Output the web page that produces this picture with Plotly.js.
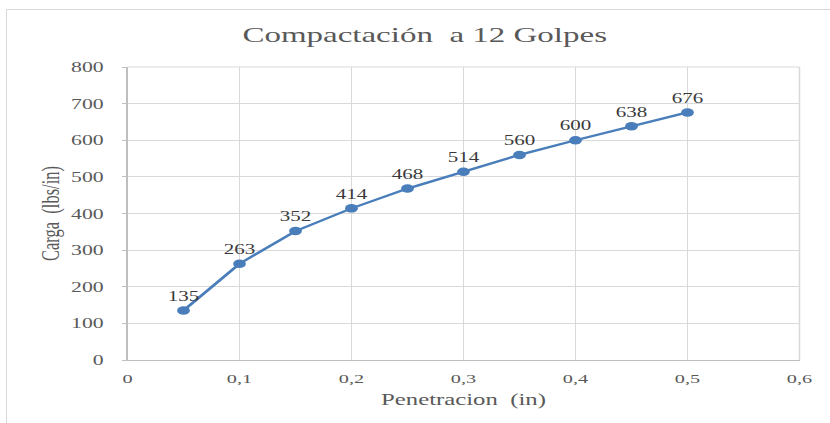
<!DOCTYPE html>
<html>
<head>
<meta charset="utf-8">
<script src="https://cdn.plot.ly/plotly-3.0.1.min.js"></script>
<style>
  html, body { margin: 0; padding: 0; overflow: hidden; background: #fff; }
  /* the chart is laid out narrow and widened horizontally */
  #chart { width: 553px; height: 423px; position: absolute; left: 0; top: 0;
           transform: scaleX(1.5); transform-origin: 0 0; }
  #frame { position: absolute; left: 6px; top: 9px; width: 900px; height: 500px;
           border-left: 1px solid #d9d9d9; border-top: 1px solid #d9d9d9; pointer-events: none; }
</style>
</head>
<body>
<div id="chart"></div>
<div id="frame"></div>
<script>
// Penetration (in) and load (lbs/in) for the 12-blow compaction test
const penetracion = [0.05, 0.10, 0.15, 0.20, 0.25, 0.30, 0.35, 0.40, 0.45, 0.50];
const carga = [135, 263, 352, 414, 468, 514, 560, 600, 638, 676];
const xTicks = [0, 0.1, 0.2, 0.3, 0.4, 0.5, 0.6];
const yTicks = [0, 100, 200, 300, 400, 500, 600, 700, 800];

const serif = 'Times New Roman, Liberation Serif, serif';

const trace = {
  x: penetracion,
  y: carga,
  type: 'scatter',
  mode: 'lines+markers+text',
  text: carga.map(String),
  textposition: 'top center',
  textfont: { family: serif, size: 14, color: '#3a3a3a' },
  line: { color: '#4a7ebb', width: 2.25 },
  marker: { color: '#4a7ebb', size: 8.5 },
  cliponaxis: false,
  hoverinfo: 'x+y'
};

const layout = {
  width: 553,
  height: 423,
  margin: { l: 85, r: 20, t: 67, b: 63 },
  paper_bgcolor: '#ffffff',
  plot_bgcolor: '#ffffff',
  separators: ',.',
  showlegend: false,
  font: { family: serif, color: '#595959' },
  title: {
    text: 'Compactación\u00a0 a 12 Golpes',
    font: { family: serif, size: 22, color: '#595959' },
    x: 0.512, xanchor: 'center',
    y: 0.918, yanchor: 'middle'
  },
  xaxis: {
    range: [0, 0.6],
    tickvals: xTicks,
    ticktext: xTicks.map(v => String(v).replace('.', ',')),
    showgrid: true,
    gridcolor: '#d9d9d9',
    gridwidth: 1,
    zeroline: false,
    showline: true,
    linecolor: '#bfbfbf',
    linewidth: 1,
    ticks: '',
    ticklabelstandoff: 6,
    tickfont: { family: serif, size: 13.5, color: '#595959' },
    title: { text: 'Penetracion\u00a0 (in)', font: { family: serif, size: 16.5, color: '#595959' }, standoff: 8 }
  },
  yaxis: {
    range: [0, 800],
    tickvals: yTicks,
    showgrid: true,
    gridcolor: '#d9d9d9',
    gridwidth: 1,
    zeroline: false,
    showline: true,
    linecolor: '#bfbfbf',
    linewidth: 1,
    ticks: 'outside',
    ticklen: 3,
    tickcolor: '#bfbfbf',
    ticklabelstandoff: 9,
    tickfont: { family: serif, size: 14.5, color: '#595959' },
    title: { text: 'Carga\u00a0 (lbs/in)', font: { family: serif, size: 16.5, color: '#595959' }, standoff: 3 }
  },
  shapes: [{
    type: 'line', xref: 'paper', yref: 'paper',
    x0: 1, x1: 1, y0: 0, y1: 1,
    line: { color: '#d9d9d9', width: 1 }
  }, {
    type: 'line', xref: 'paper', yref: 'paper',
    x0: 0, x1: 1, y0: 1, y1: 1,
    line: { color: '#d9d9d9', width: 1 }
  }]
};

Plotly.newPlot('chart', [trace], layout, { displayModeBar: false, staticPlot: true });
</script>
</body>
</html>
